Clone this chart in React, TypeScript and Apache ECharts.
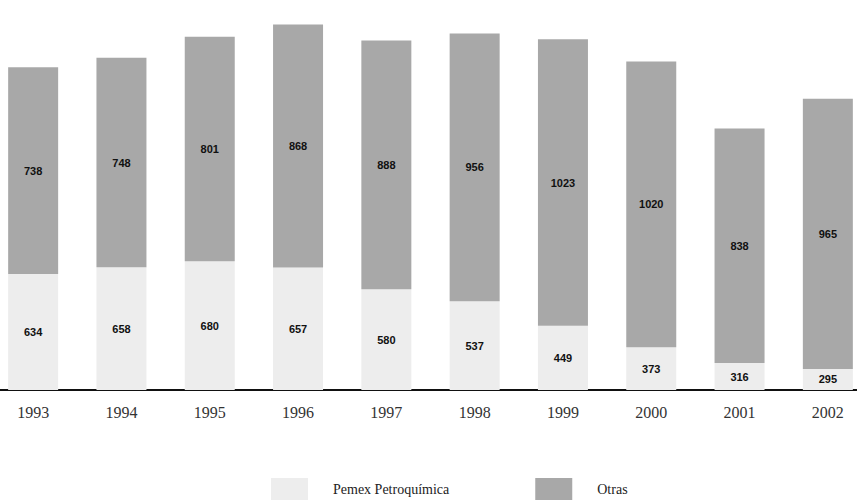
import React, { useEffect, useRef } from "react";
import * as echarts from "echarts";

const years = ["1993", "1994", "1995", "1996", "1997", "1998", "1999", "2000", "2001", "2002"];
const pemexPetroquimica = [634, 658, 680, 657, 580, 537, 449, 373, 316, 295];
const otras = [738, 748, 801, 868, 888, 956, 1023, 1020, 838, 965];
const seriesNames = ["Pemex Petroquímica", "Otras"];

export default function App() {
  const ref = useRef<HTMLDivElement>(null);
  useEffect(() => {
    if (!ref.current) return;
    const chart = echarts.init(ref.current, undefined, { renderer: "svg" });
    const labelStyle = {
      show: true,
      position: "inside" as const,
      color: "#111",
      fontFamily: "Liberation Sans",
      fontWeight: "bold" as const,
      fontSize: 11,
    };
    chart.setOption({
      animation: false,
      backgroundColor: "#ffffff",
      grid: { left: 0, right: 0, top: 8, bottom: 110, containLabel: false },
      xAxis: {
        type: "category",
        data: years,
        axisLine: { show: true, lineStyle: { color: "#111", width: 2 } },
        axisTick: { show: false },
        axisLabel: {
          color: "#333",
          fontFamily: "Liberation Serif",
          fontSize: 16,
          margin: 14,
        },
      },
      yAxis: {
        type: "value",
        min: 220,
        max: 1584,
        show: false,
        splitLine: { show: false },
      },
      legend: {
        left: 277,
        top: 473,
        itemWidth: 37,
        itemHeight: 22,
        itemGap: 86,
        icon: "rect",
        textStyle: {
          fontFamily: "Liberation Serif",
          fontSize: 14,
          color: "#222",
          padding: [0, 0, 0, 20],
        },
        data: seriesNames,
      },
      series: [
        {
          name: seriesNames[0],
          type: "bar",
          stack: "total",
          barWidth: 50,
          data: pemexPetroquimica,
          itemStyle: { color: "#ededed" },
          label: labelStyle,
        },
        {
          name: seriesNames[1],
          type: "bar",
          stack: "total",
          barWidth: 50,
          data: otras,
          itemStyle: { color: "#a8a8a8" },
          label: labelStyle,
        },
      ],
    });
    return () => chart.dispose();
  }, []);
  return (
    <div style={{ position: "absolute", left: 0, top: 0, width: 857, height: 500, overflow: "hidden", background: "#fff" }}>
      <div ref={ref} style={{ width: 883, height: 500, position: "absolute", left: -11, top: 0 }} />
    </div>
  );
}
